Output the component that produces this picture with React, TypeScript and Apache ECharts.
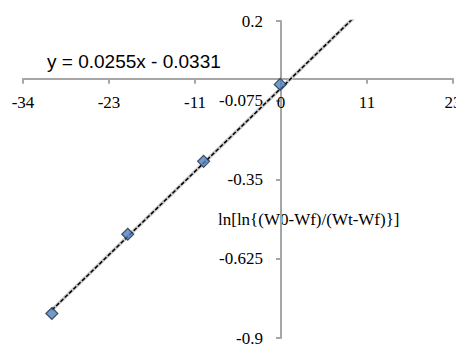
import React, { useEffect, useRef } from "react";
import * as echarts from "echarts";

const xValues = [-30.2, -20.2, -10.2, -0.1];
const yValues = [-0.815, -0.54, -0.287, -0.02];
const trendSlope = 0.0255;
const trendIntercept = -0.0331;
const trendXRange = [-30.2, 10];
const equationLabel = "y = 0.0255x - 0.0331";
const yAxisTitle = "ln[ln{(W0-Wf)/(Wt-Wf)}]";
const xTicks = [-34, -68 / 3, -34 / 3, 0, 34 / 3, 68 / 3];
const xTickLabels = ["-34", "-23", "-11", "0", "11", "23"];
const yTicks = [-0.9, -0.625, -0.35, -0.075, 0.2];
const yTickLabels = ["-0.9", "-0.625", "-0.35", "-0.075", "0.2"];

const serif = "Liberation Serif";
const sans = "Liberation Sans";
const axisGray = "#a6a6a6";

export default function App() {
  const ref = useRef<HTMLDivElement>(null);
  useEffect(() => {
    if (!ref.current) return;
    const chart = echarts.init(ref.current, null, { renderer: "svg" });
    const points = xValues.map((x, i) => [x, yValues[i]]);
    const trend = trendXRange.map((x) => [x, trendSlope * x + trendIntercept]);
    const lookup = (ticks: number[], labels: string[]) => (v: number) => {
      const i = ticks.findIndex((t) => Math.abs(t - v) < 1e-3);
      return i >= 0 ? labels[i] : "";
    };
    const fullOption = (xOffset: number, yOffset: number) => ({
      animation: false,
      grid: { left: 23, right: 3, top: 21, bottom: 7, containLabel: false, outerBoundsMode: "none" },
      xAxis: {
        type: "value",
        min: -34,
        max: 68 / 3,
        interval: 34 / 3,
        position: "bottom",
        offset: xOffset,
        axisLine: { onZero: false, lineStyle: { color: axisGray, width: 2 } },
        axisTick: { show: true, length: 5, lineStyle: { color: axisGray, width: 2 } },
        axisLabel: {
          formatter: lookup(xTicks, xTickLabels),
          margin: 15,
          color: "#000",
          fontFamily: serif,
          fontSize: 17,
        },
        splitLine: { show: false },
      },
      yAxis: {
        type: "value",
        min: -0.9,
        max: 0.2,
        position: "left",
        offset: yOffset,
        axisLine: { show: true, onZero: false, lineStyle: { color: axisGray, width: 2 } },
        axisTick: { show: true, length: 5, customValues: yTicks, lineStyle: { color: axisGray, width: 2 } },
        axisLabel: {
          customValues: yTicks,
          formatter: lookup(yTicks, yTickLabels),
          margin: 18,
          color: "#000",
          fontFamily: serif,
          fontSize: 17,
        },
        splitLine: { show: false },
      },
      graphic: [
        {
          type: "text",
          left: 47,
          top: 52,
          style: { text: equationLabel, fill: "#000", fontFamily: sans, fontSize: 19 },
        },
        {
          type: "text",
          left: 218,
          top: 211,
          style: { text: yAxisTitle, fill: "#000", fontFamily: serif, fontSize: 17 },
        },
      ],
      series: [
        {
          type: "line",
          data: trend,
          symbol: "none",
          lineStyle: { color: "#c8c8c8", width: 3.5 },
          z: 1,
        },
        {
          type: "line",
          data: trend,
          symbol: "none",
          lineStyle: { color: "#000", width: 1.5, type: [4, 2] },
          z: 2,
        },
        {
          type: "scatter",
          data: points,
          symbol: "diamond",
          symbolSize: 12,
          itemStyle: { color: "#4F81BD", borderColor: "#1f2f4a", borderWidth: 1.2 },
          z: 3,
        },
      ],
    });
    chart.setOption(fullOption(0, 0));
    const x0 = chart.convertToPixel({ xAxisIndex: 0 }, 0) as number;
    const xMin = chart.convertToPixel({ xAxisIndex: 0 }, -34) as number;
    const y0 = chart.convertToPixel({ yAxisIndex: 0 }, 0) as number;
    const yMin = chart.convertToPixel({ yAxisIndex: 0 }, -0.9) as number;
    chart.setOption(fullOption(-(yMin - y0), -(x0 - xMin)), { notMerge: true });
    return () => chart.dispose();
  }, []);
  return (
    <div
      ref={ref}
      style={{ position: "fixed", left: 0, top: 0, width: 456, height: 345, background: "#fff" }}
    />
  );
}
